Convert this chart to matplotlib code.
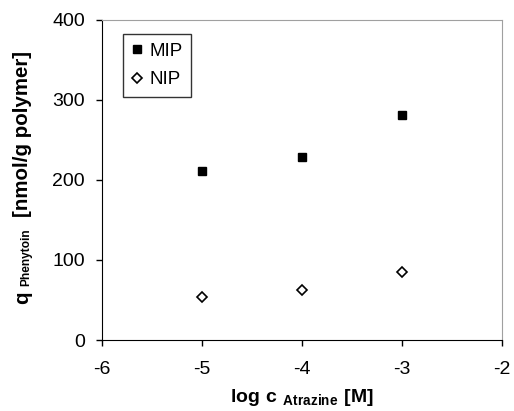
import matplotlib
matplotlib.use('Agg')
from matplotlib import pyplot as plt

# data
log_c = [-5, -4, -3]
mip = [211, 229, 281]
nip = [54, 62, 85]

plt.rcParams['font.family'] = 'Liberation Sans'
plt.rcParams['axes.unicode_minus'] = False
plt.rcParams['mathtext.fontset'] = 'custom'
plt.rcParams['mathtext.rm'] = 'Liberation Sans'
plt.rcParams['mathtext.bf'] = 'Liberation Sans:bold'

W, H = 514, 411


def stacked_ylabel(fig, x_px, y_px, pieces):
    # rotated label built from pieces so the subscript can be sized freely
    renderer = fig.canvas.get_renderer()
    cur = y_px
    for text, size, shift, gap in pieces:
        t = fig.text((x_px + shift) / W, cur / H, text, rotation=90,
                     rotation_mode='anchor', ha='left', va='baseline',
                     fontsize=size, fontweight='bold')
        bb = t.get_window_extent(renderer=renderer)
        cur += bb.height + gap


def main():
    fig = plt.figure(figsize=(W / 100, H / 100), dpi=100)
    ax = fig.add_axes([102 / W, 71 / H, 400 / W, 320 / H])

    ax.plot(log_c, mip, linestyle='none', marker='s', markersize=5.8,
            color='black', label='MIP')
    ax.plot(log_c, nip, linestyle='none', marker='D', markersize=4.8,
            markerfacecolor='white', markeredgecolor='black',
            markeredgewidth=1.2, label='NIP')

    ax.set_xlim(-6, -2)
    ax.set_ylim(0, 400)
    ax.set_xticks([-6, -5, -4, -3, -2])
    ax.set_yticks([0, 100, 200, 300, 400])
    ax.tick_params(direction='out', length=4.3, width=1, labelsize=14)
    ax.tick_params(axis='x', pad=11)
    ax.tick_params(axis='y', pad=8)

    for side in ('top', 'right'):
        ax.spines[side].set_color('#a0a0a0')
    for side in ('left', 'bottom'):
        ax.spines[side].set_color('black')

    ax.set_xlabel(r'$\mathbf{log\ c\ }{}_{\mathbf{Atrazine}}\mathbf{\ [M]}$',
                  fontsize=14, labelpad=6)

    leg = ax.legend(loc='upper left', bbox_to_anchor=(0.0525, 0.955),
                    fontsize=13.5, frameon=True, fancybox=False,
                    handlelength=0.6, handletextpad=0.35, borderpad=0.45,
                    labelspacing=0.6, borderaxespad=0)
    leg.get_frame().set_edgecolor('black')
    leg.get_frame().set_linewidth(1)

    stacked_ylabel(fig, 28, H - 304, [
        ('q', 14.8, 0, 6),
        ('Phenytoin', 8.6, 1, 11),
        ('[nmol/g polymer]', 14.8, 0, 0),
    ])

    fig.savefig('out.png', dpi=100)


if __name__ == '__main__':
    main()
